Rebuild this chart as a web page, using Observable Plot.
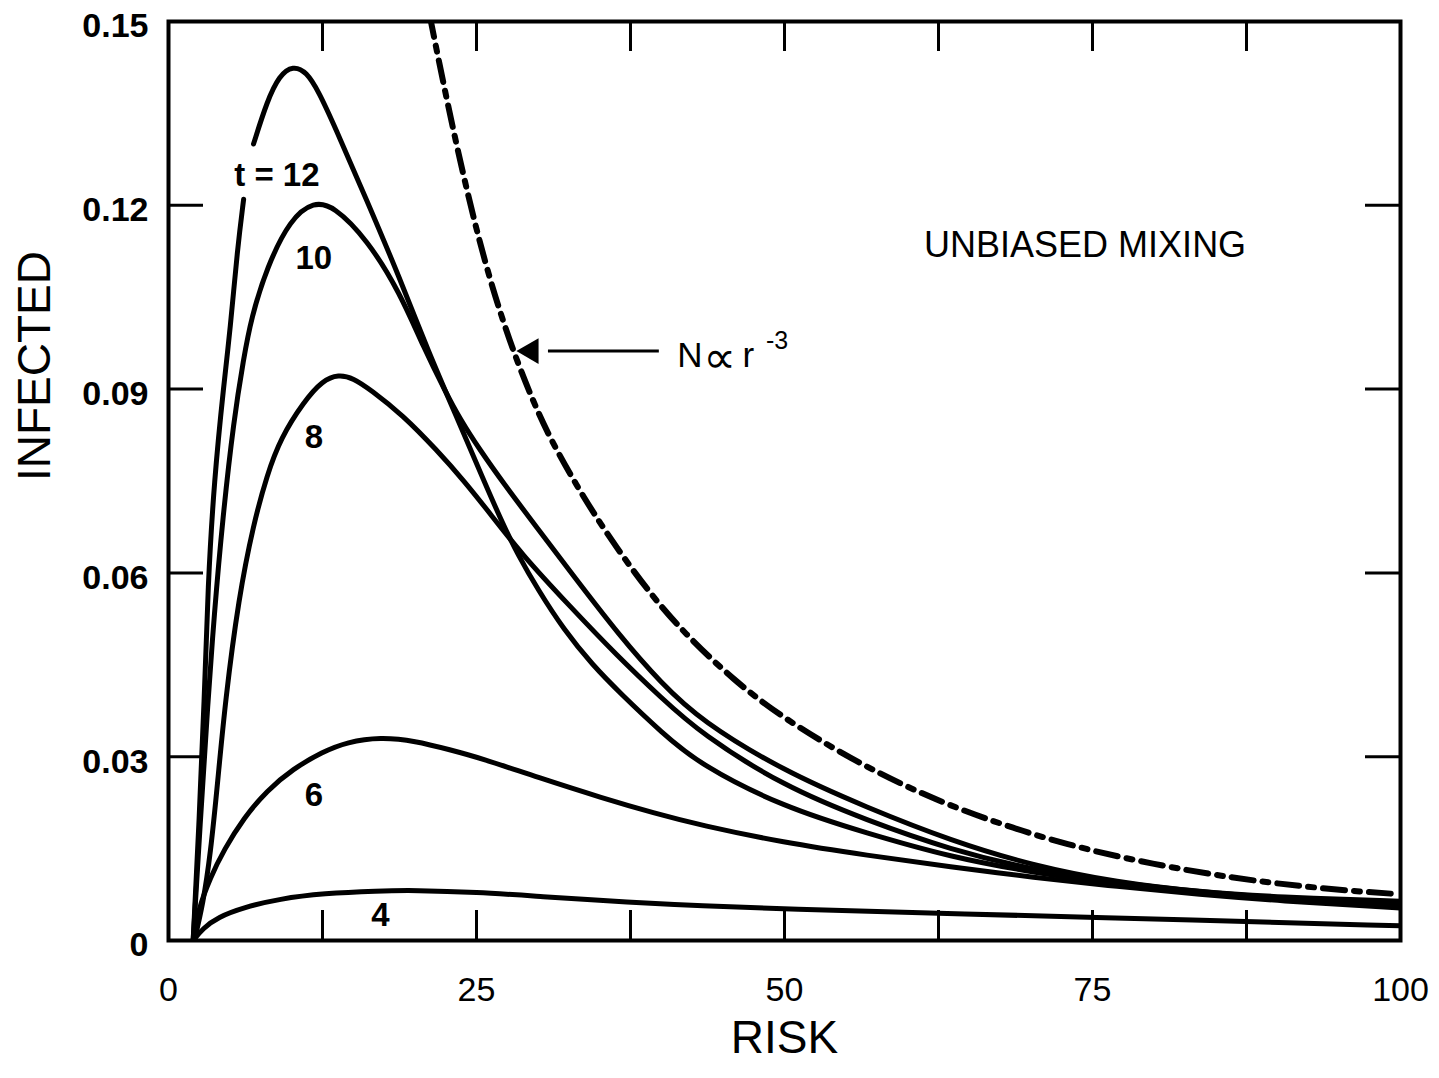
<!DOCTYPE html>
<html>
<head>
<meta charset="utf-8">
<script src="https://cdn.jsdelivr.net/npm/d3@7"></script>
<script src="https://cdn.jsdelivr.net/npm/@observablehq/plot@0.6"></script>
<style>
  html, body { margin: 0; padding: 0; background: #fff; }
  #chart { width: 1439px; height: 1078px; }
</style>
</head>
<body>
<div id="chart"></div>
<script>
// ---- data: [risk, infected] ----
const curveT4 = [[2.0,0],[2.8,0.002],[4,0.0038],[6.1,0.0054],[9,0.0068],[12.6,0.0077],[17,0.0081],[20,0.0082],[25,0.0079],[30,0.0072],[37.5,0.0062],[43.2,0.0057],[50,0.0051],[63.5,0.0044],[83.8,0.0033],[100,0.0024]];
const curveT6 = [[2.0,0],[2.4,0.005],[3.4,0.0103],[4.5,0.0148],[6.1,0.020],[8,0.0245],[10.1,0.028],[12.5,0.0308],[14.5,0.0324],[17.2,0.0332],[20,0.0326],[22.9,0.0311],[25.3,0.0298],[30,0.0266],[35.3,0.0232],[39.4,0.0208],[43.2,0.0188],[49.9,0.0160],[56.7,0.0139],[63.5,0.0120],[70.2,0.0103],[77,0.0088],[83.8,0.0075],[90,0.0065],[100,0.0053]];
const curveT8 = [[2.1,0],[2.8,0.006],[3.4,0.014],[4.0,0.026],[4.6,0.039],[5.7,0.056],[6.9,0.068],[8,0.076],[9.1,0.082],[11,0.088],[12.5,0.0914],[13.8,0.0924],[15,0.0918],[16.4,0.0899],[19,0.0858],[21.8,0.080],[24,0.075],[26.1,0.0697],[28.6,0.0632],[32.6,0.0545],[36.4,0.0465],[40,0.0396],[43.2,0.0338],[49.9,0.0252],[56.7,0.0196],[63.5,0.0148],[70.2,0.0115],[77,0.0094],[83.8,0.0079],[90,0.0069],[100,0.0058]];
const curveT10 = [[2.0,0],[2.6,0.02],[3.2,0.039],[3.7,0.053],[4.4,0.069],[5.3,0.085],[6.1,0.095],[6.7,0.1015],[8,0.110],[9.9,0.1178],[11.8,0.1206],[13.4,0.1199],[16.1,0.1145],[18.8,0.1057],[20.7,0.0968],[22.5,0.0895],[23.7,0.0850],[25.3,0.0800],[27.2,0.0746],[29.9,0.0674],[32.5,0.0605],[36.7,0.0495],[40,0.0420],[43.2,0.0359],[49.9,0.0277],[56.7,0.0217],[63.5,0.0163],[70.2,0.0122],[77,0.0095],[83.8,0.0079],[90,0.0071],[100,0.0064]];
const curveT12 = [[2.0,0],[2.5,0.02],[2.9,0.039],[3.2,0.058],[3.7,0.075],[4.5,0.091],[5.0,0.0995],[5.6,0.113],[6.1,0.121],[6.5,NaN],[6.9,0.130],[8,0.137],[9,0.1412],[10.1,0.1428],[11.2,0.1418],[12.2,0.1385],[13.4,0.1333],[16.1,0.1208],[18.8,0.108],[21,0.0965],[23.7,0.0840],[25.5,0.0755],[27.2,0.0677],[28.3,0.0632],[30,0.0572],[32.1,0.0507],[34.4,0.0450],[36.7,0.0403],[40,0.0340],[43.2,0.0286],[49.9,0.0218],[56.7,0.0175],[63.5,0.0136],[70.2,0.0111],[77,0.0091],[83.8,0.0077],[90,0.0068],[100,0.0060]];
const curvePower = [[21.2,0.151],[22.6,0.137],[24.3,0.1215],[26.1,0.1075],[28,0.0960],[29.6,0.0880],[31,0.0818],[33.7,0.0722],[36.4,0.0640],[39.1,0.0566],[41.8,0.0503],[45.9,0.0424],[49.9,0.0363],[55.4,0.0296],[60.8,0.0242],[66,0.0200],[73,0.0155],[80,0.0124],[86.4,0.0102],[92,0.0088],[97.3,0.0079],[99.6,0.0076]];

const xTickLabels = [0, 25, 50, 75, 100];
const yTickLabels = [0, 0.03, 0.06, 0.09, 0.12, 0.15];
const xTickMarks = [12.5, 25, 37.5, 50, 62.5, 75, 87.5];
const yTickMarks = [0.03, 0.06, 0.09, 0.12];

const curveLabels = [
  {text: "t = 12", r: 8.8, v: 0.1249},
  {text: "10", r: 11.8, v: 0.1113},
  {text: "8", r: 11.8, v: 0.0821},
  {text: "6", r: 11.8, v: 0.0237},
  {text: "4", r: 17.2, v: 0.0041}
];
const noteText = {text: "UNBIASED MIXING", r: 74.4, v: 0.1134};
const powerParts = [
  {text: "N", r: 41.3, v: 0.0955, size: 35},
  {text: "\u221D", r: 43.4, v: 0.0951, size: 46},
  {text: "r", r: 46.6, v: 0.0955, size: 35},
  {text: "-3", r: 48.5, v: 0.0978, size: 25}
];
const arrowSpec = {rFrom: 39.8, rTo: 28.3, rBase: 30.8, v: 0.0962};

// ---- build tables ----
const toRows = (arr, t) => arr.map(([r, v]) => ({r, v, t}));
const solid = [
  ...toRows(curveT4, 4), ...toRows(curveT6, 6), ...toRows(curveT8, 8),
  ...toRows(curveT10, 10), ...toRows(curveT12, 12)
];
const power = toRows(curvePower, "power");

const W = 1439, H = 1078;
const mL = 168, mR = 39, mT = 21, mB = 138;
const innerW = W - mL - mR, innerH = H - mT - mB;
const font = "'Liberation Sans', Arial, Helvetica, sans-serif";

const chart = Plot.plot({
  width: W, height: H,
  marginLeft: mL, marginRight: mR, marginTop: mT, marginBottom: mB,
  style: {fontFamily: font, background: "#fff", color: "#000"},
  x: {domain: [0, 100]},
  y: {domain: [0, 0.15]},
  marks: [
    // curves
    Plot.line(solid, {x: "r", y: "v", z: "t", curve: "basis", stroke: "#000", strokeWidth: 5, clip: true}),
    Plot.line(power, {x: "r", y: "v", curve: "basis", stroke: "#000", strokeWidth: 6, strokeDasharray: "22,9,6,9", clip: true}),
    // inward ticks
    Plot.tickX(xTickMarks, {x: d => d, insetTop: innerH - 30, stroke: "#000", strokeWidth: 3}),
    Plot.tickX(xTickMarks, {x: d => d, insetBottom: innerH - 30, stroke: "#000", strokeWidth: 3}),
    Plot.tickY(yTickMarks, {y: d => d, insetRight: innerW - 35, stroke: "#000", strokeWidth: 3}),
    Plot.tickY(yTickMarks, {y: d => d, insetLeft: innerW - 35, stroke: "#000", strokeWidth: 3}),
    Plot.frame({stroke: "#000", strokeWidth: 4}),
    // axes labels
    Plot.axisX({ticks: xTickLabels, tickSize: 0, tickPadding: 36, fontSize: 34, label: null, tickFormat: d => String(d)}),
    Plot.axisY({ticks: yTickLabels, tickSize: 0, tickPadding: 20, fontSize: 34, fontWeight: "bold", label: null, dy: 5,
      tickFormat: d => d === 0 ? "0" : d.toFixed(2)}),
    Plot.text(["RISK"], {frameAnchor: "bottom", dy: 112, fontSize: 46, text: d => d}),
    Plot.text(["INFECTED"], {frameAnchor: "left", dx: -133, rotate: -90, fontSize: 46, text: d => d}),
    // annotations
    Plot.text(curveLabels, {x: "r", y: "v", text: "text", fontSize: 33, fontWeight: "bold"}),
    Plot.text([noteText], {x: "r", y: "v", text: "text", fontSize: 36}),
    Plot.text(powerParts.filter(d => d.text !== "\u221D"), {x: "r", y: "v", text: "text", fontSize: d => d.size, textAnchor: "start"}),
    Plot.text(powerParts.filter(d => d.text === "\u221D"), {x: "r", y: "v", text: "text", fontSize: d => d.size, textAnchor: "start", fontFamily: "'DejaVu Sans', sans-serif"}),
    Plot.link([arrowSpec], {x1: "rFrom", x2: "rBase", y1: "v", y2: "v", stroke: "#000", strokeWidth: 3}),
    Plot.dot([arrowSpec], {x: "rTo", y: "v", dx: 14, symbol: "triangle", rotate: -90, r: 9.5, fill: "#000", stroke: "none"})
  ]
});
document.getElementById("chart").appendChild(chart);
</script>
</body>
</html>
